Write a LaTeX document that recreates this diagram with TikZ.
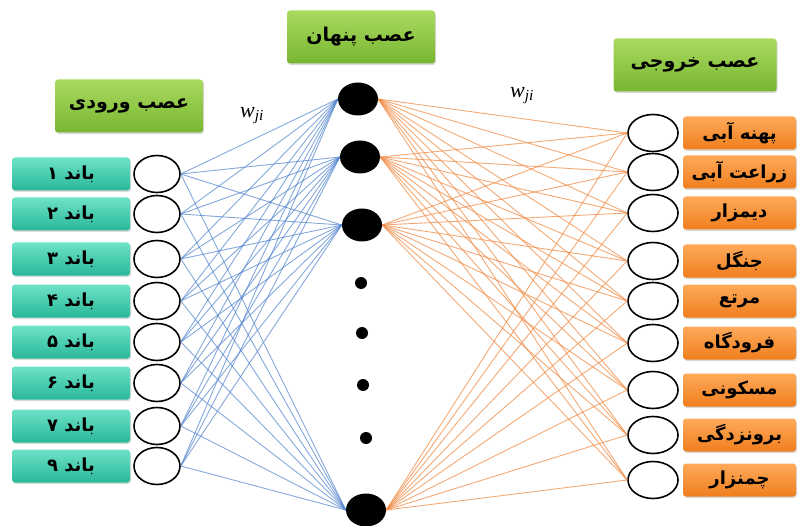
\documentclass[tikz,border=0pt]{standalone}
\usepackage{fontspec}
\setmainfont{Liberation Serif}
\newfontfamily\fa[Script=Arabic]{DejaVu Sans}
\TeXXeTstate=1
\usetikzlibrary{shapes.geometric,shadows}
\definecolor{tealA}{RGB}{110,226,200}
\definecolor{tealB}{RGB}{40,184,152}
\definecolor{grnA}{RGB}{170,218,96}
\definecolor{grnB}{RGB}{120,182,48}
\definecolor{orgA}{RGB}{254,170,90}
\definecolor{orgB}{RGB}{240,126,30}
\definecolor{blueL}{RGB}{80,130,205}
\definecolor{orgL}{RGB}{240,140,70}
\newcommand\rtl[1]{\beginR #1\endR}
\tikzset{
  boxbase/.style={rectangle, rounded corners=3pt, inner sep=0pt,
    drop shadow={shadow xshift=1pt, shadow yshift=-1.5pt, opacity=0.3},
    font=\fa\bfseries\fontsize{18}{20}\selectfont},
  inbox/.style={boxbase, minimum width=118pt, minimum height=33pt, top color=tealA, bottom color=tealB},
  outbox/.style={boxbase, minimum width=113pt, minimum height=33pt, top color=orgA, bottom color=orgB},
  layerbox/.style={boxbase, minimum height=53pt, top color=grnA, bottom color=grnB, font=\fa\bfseries\fontsize{19}{21}\selectfont},
  neuron/.style={ellipse, draw=black, line width=1.6pt, fill=white, inner sep=0pt, minimum width=46pt, minimum height=37pt},
  outneuron/.style={neuron, minimum width=50pt},
  hid/.style={ellipse, fill=black, inner sep=0pt, minimum width=40pt, minimum height=33pt},
  dotn/.style={circle, fill=black, inner sep=0pt, minimum size=12pt},
  bl/.style={draw=blueL, line width=0.9pt, opacity=0.7},
  ol/.style={draw=orgL, line width=0.9pt, opacity=0.75},
  wlab/.style={font=\fontsize{22}{24}\selectfont}
}
\begin{document}
\begin{tikzpicture}[x=1pt,y=-1pt]
\useasboundingbox (0,0) rectangle (799,526);
% layer labels
\node[layerbox, minimum width=148pt] (lin) at (129,106) {\rtl{عصب ورودی}};
\node[layerbox, minimum width=148pt] (lhid) at (361,37) {\rtl{عصب پنهان}};
\node[layerbox, minimum width=163pt] (lout) at (695,65) {\rtl{عصب خروجی}};
% input layer
\foreach \i/\y/\d in {1/174/۱,2/214/۲,3/259/۳,4/301/۴,5/342/۵,6/383/۶,7/426/۷,8/466/۹}{
  \node[inbox] (b\i) at (71,\y) {\rtl{باند \d}};
  \node[neuron] (in\i) at (157,\y) {};
}
% hidden layer
\node[hid] (h1) at (358,99) {};
\node[hid] (h2) at (360,157) {};
\node[hid] (h3) at (362,225) {};
\node[hid] (h4) at (366,510) {};
\node[dotn] (d1) at (361,283) {};
\node[dotn] (d2) at (362,333) {};
\node[dotn] (d3) at (363,385) {};
\node[dotn] (d4) at (366,438) {};
% output layer
\foreach \i/\y/\t in {1/133/پهنه آبی,2/172/زراعت آبی,3/213/دیمزار,4/261/جنگل,5/301/مرتع,6/343/فرودگاه,7/390/مسکونی,8/435/برونزدگی,9/480/چمنزار}{
  \node[outneuron] (o\i) at (653,\y) {};
  \node[outbox] (ob\i) at (739.5,\y) {\rtl{\t}};
}
% connections
\foreach \i in {1,...,8}{
  \foreach \h in {1,...,4}{
    \draw[bl] (in\i.east) -- (h\h.west);
  }
}
\foreach \h in {1,...,4}{
  \foreach \o in {1,...,9}{
    \draw[ol] (h\h.east) -- (o\o.west);
  }
}
% weights
\node[wlab] (w1) at (252,116) {\textit{w}\textsubscript{\textit{ji}}};
\node[wlab] (w2) at (522,96) {\textit{w}\textsubscript{\textit{ji}}};
\end{tikzpicture}
\end{document}
